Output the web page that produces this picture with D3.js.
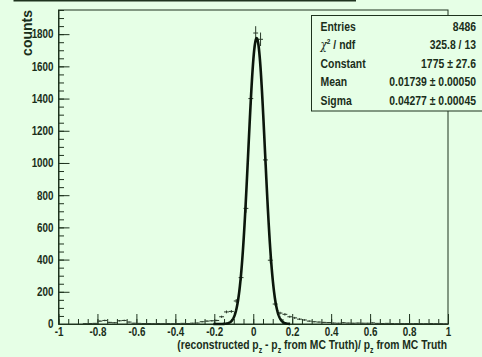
<!DOCTYPE html>
<html><head><meta charset="utf-8">
<script src="https://cdn.jsdelivr.net/npm/d3@7"></script>
<style>
html,body{margin:0;padding:0;background:#e6ffe6;}
svg{display:block;}
text{font-family:"Liberation Sans",Arial,sans-serif;font-weight:bold;fill:#1a2e1a;}
</style></head><body>
<svg id="c" width="482" height="357"></svg>
<script>
// ---- data ----
const binCenters = [-0.8625,-0.8375,-0.8125,-0.7875,-0.7625,-0.7375,-0.7125,-0.6875,-0.6625,-0.6375,
  -0.6125,-0.5875,-0.5625,-0.5375,-0.5125,-0.4875,-0.4625,-0.4375,-0.4125,-0.3875,
  -0.3625,-0.3375,-0.3125,-0.2875,-0.2625,-0.2375,-0.2125,-0.1875,-0.1625,-0.1375,
  -0.1125,-0.0875,-0.0625,-0.0375,-0.0125,0.0125,0.0375,0.0625,0.0875,0.1125,
  0.1375,0.1625,0.1875,0.2125,0.2375,0.2625,0.2875,0.3125,0.3375,0.3625,
  0.3875,0.4125,0.4375,0.4625,0.4875,0.5125,0.5375,0.5625,0.5875,0.6125,
  0.6375,0.6625,0.6875,0.7125,0.7375,0.7625,0.7875,0.8125,0.8375,0.8625,
  0.8875,0.9125,0.9375,0.9625,0.9875];
const counts = [2,3,4,18,22,10,8,20,22,12,
  5,4,3,3,2,3,2,3,2,3,
  4,3,5,6,14,18,20,22,45,75,
  78,143,288,718,1400,1807,1768,1019,396,124,
  68,60,45,38,30,25,18,14,12,10,
  9,6,5,8,6,5,6,5,5,7,
  4,3,4,3,2,3,3,2,3,2,
  2,3,2,2,1];
const binWidth = 0.025;
const xTicks = [-1,-0.8,-0.6,-0.4,-0.2,0,0.2,0.4,0.6,0.8,1];
const xTickLabels = ["-1","-0.8","-0.6","-0.4","-0.2","0","0.2","0.4","0.6","0.8","1"];
const yTicks = [0,200,400,600,800,1000,1200,1400,1600,1800];
const yTickLabels = ["0","200","400","600","800","1000","1200","1400","1600","1800"];
const statLabels = ["Entries","chi2","Constant","Mean","Sigma"];
const statValues = ["8486","325.8 / 13","1775 \u00b1 27.6","0.01739 \u00b1 0.00050","0.04277 \u00b1 0.00045"];
const fitConstant = 1775, fitMean = 0.01739, fitSigma = 0.04277;
const fitRange = [-0.205, 0.19];
const yTitle = "counts";

// ---- drawing ----
const bg = "#e6ffe6", ink = "#1e331e", SX = 0.82;
const svg = d3.select("#c");
svg.append("rect").attr("width",482).attr("height",357).attr("fill",bg);

const x = d3.scaleLinear().domain([-1,1]).range([58.5,448]);
const y = d3.scaleLinear().domain([0,1950]).range([324,10]);

function ntext(px, py, anchor, size){
  return svg.append("text").attr("transform",`translate(${px},${py}) scale(${SX},1)`)
    .attr("text-anchor",anchor).style("font-size",size);
}

// title box (cut off at top)
svg.append("rect").attr("x",14.5).attr("y",-20).attr("width",340.5).attr("height",20.5)
  .attr("fill",bg).attr("stroke",ink).attr("stroke-width",2);

// frame
svg.append("rect").attr("x",x(-1)).attr("y",y(1950)).attr("width",x(1)-x(-1)).attr("height",y(0)-y(1950))
  .attr("fill","none").attr("stroke",ink).attr("stroke-width",1);

// y axis
const yMinor = d3.range(0,1951,50);
svg.append("g").attr("transform",`translate(${x(-1)},0)`)
  .call(d3.axisLeft(y).tickValues(yMinor).tickSizeInner(-5.5).tickSizeOuter(0).tickFormat(""))
  .call(g=>g.select(".domain").remove())
  .call(g=>g.selectAll("line").attr("stroke",ink));
const gy = svg.append("g").attr("transform",`translate(${x(-1)},0)`)
  .call(d3.axisLeft(y).tickValues(yTicks).tickSizeInner(-11).tickSizeOuter(0).tickPadding(5)
    .tickFormat((d,i)=>yTickLabels[i]));
gy.select(".domain").attr("stroke",ink);
gy.selectAll("line").attr("stroke",ink);
gy.attr("font-family",null).attr("font-size",null);
gy.selectAll("text").style("font-size","12px").attr("fill",ink)
  .attr("x",-5/SX).attr("transform",`scale(${SX},1)`);

// x axis
const xMinor = d3.range(-1,1.0001,0.05);
svg.append("g").attr("transform",`translate(0,${y(0)})`)
  .call(d3.axisBottom(x).tickValues(xMinor).tickSizeInner(-5).tickSizeOuter(0).tickFormat(""))
  .call(g=>g.select(".domain").remove())
  .call(g=>g.selectAll("line").attr("stroke",ink));
const gx = svg.append("g").attr("transform",`translate(0,${y(0)})`)
  .call(d3.axisBottom(x).tickValues(xTicks).tickSizeInner(-10).tickSizeOuter(0).tickPadding(3)
    .tickFormat((d,i)=>xTickLabels[i]));
gx.select(".domain").attr("stroke",ink);
gx.selectAll("line").attr("stroke",ink);
gx.attr("font-family",null).attr("font-size",null);
gx.selectAll("text").style("font-size","12px").attr("fill",ink).attr("transform",`scale(${SX},1)`);

// data points with error bars
const pts = svg.append("g").attr("stroke","#2b3b2b").attr("stroke-width",1).attr("fill","none");
binCenters.forEach((c,i)=>{
  const n = counts[i]; if(n<=0) return;
  const e = Math.sqrt(n);
  pts.append("line").attr("x1",x(c-binWidth/2)).attr("x2",x(c+binWidth/2)).attr("y1",y(n)).attr("y2",y(n));
  pts.append("line").attr("x1",x(c)).attr("x2",x(c)).attr("y1",y(Math.max(0,n-e))).attr("y2",y(n+e));
});

// gaussian fit curve
const fitX = d3.range(fitRange[0], fitRange[1]+1e-9, 0.002);
const gauss = v => fitConstant*Math.exp(-0.5*Math.pow((v-fitMean)/fitSigma,2));
svg.append("path").datum(fitX)
  .attr("d", d3.line().x(d=>x(d)).y(d=>y(gauss(d))))
  .attr("fill","none").attr("stroke","#0b160b").attr("stroke-width",2.6).attr("stroke-linejoin","round");

// stats box
svg.append("rect").attr("x",311.5).attr("y",15.5).attr("width",200).attr("height",95.5)
  .attr("fill",bg).attr("stroke",ink).attr("stroke-width",1);
const rowY = [30.5,49,67.5,86,104.5];
statLabels.forEach((lab,i)=>{
  const t = ntext(320.5, rowY[i], "start", "12.7px");
  if(lab==="chi2"){
    t.append("tspan").text("\u03c7").style("font-family","DejaVu Serif").style("font-weight","normal").style("font-style","italic");
    t.append("tspan").text("2").attr("dy",-5).style("font-size","8px");
    t.append("tspan").text(" / ndf").attr("dy",5);
  } else t.text(lab);
  ntext(476, rowY[i], "end", "12.7px").text(statValues[i]);
});

// axis titles
const xt = ntext(447, 348.5, "end", "12.6px");
xt.append("tspan").text("(reconstructed p");
xt.append("tspan").text("z").attr("dy",4).style("font-size","8.5px");
xt.append("tspan").text(" - p").attr("dy",-4);
xt.append("tspan").text("z").attr("dy",4).style("font-size","8.5px");
xt.append("tspan").text(" from MC Truth)/ p").attr("dy",-4);
xt.append("tspan").text("z").attr("dy",4).style("font-size","8.5px");
xt.append("tspan").text(" from MC Truth").attr("dy",-4);

svg.append("text").attr("transform","translate(31.5,10) rotate(-90)").attr("text-anchor","end")
  .style("font-size","14px").text(yTitle);
</script>
</body></html>
